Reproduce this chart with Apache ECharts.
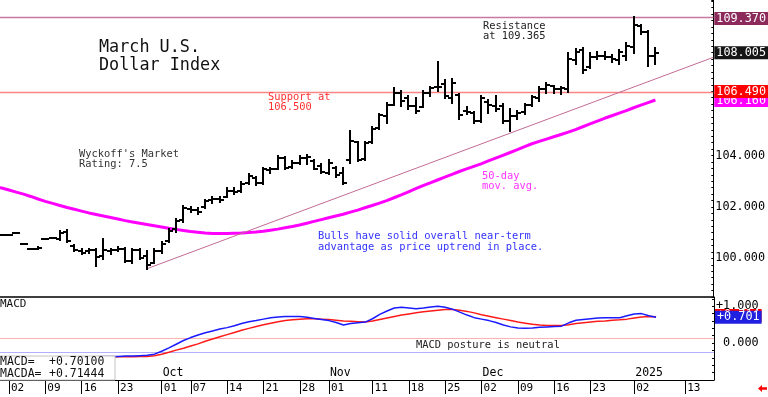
<!DOCTYPE html>
<html>
<head>
<meta charset="utf-8">
<title>March U.S. Dollar Index</title>
<script src="https://cdn.jsdelivr.net/npm/echarts@6.0.0/dist/echarts.min.js"></script>
<style>
  html, body { margin: 0; padding: 0; background: #fff; }
  #chart { width: 768px; height: 397px; }
</style>
</head>
<body>
<div id="chart"></div>
<script>
var FONT = 'DejaVu Sans Mono';

// trading days, Aug 29 2024 .. Jan 7 2025 (x value = index in this list)
var days = [
  'Aug 29', 'Aug 30', 'Sep 2', 'Sep 3', 'Sep 4', 'Sep 5', 'Sep 6', 'Sep 9', 'Sep 10', 'Sep 11', 'Sep 12', 'Sep 13',
  'Sep 16', 'Sep 17', 'Sep 18', 'Sep 19', 'Sep 20', 'Sep 23', 'Sep 24', 'Sep 25', 'Sep 26', 'Sep 27', 'Sep 30',
  'Oct 1', 'Oct 2', 'Oct 3', 'Oct 4', 'Oct 7', 'Oct 8', 'Oct 9', 'Oct 10', 'Oct 11', 'Oct 14', 'Oct 15', 'Oct 16',
  'Oct 17', 'Oct 18', 'Oct 21', 'Oct 22', 'Oct 23', 'Oct 24', 'Oct 25', 'Oct 28', 'Oct 29', 'Oct 30', 'Oct 31',
  'Nov 1', 'Nov 4', 'Nov 5', 'Nov 6', 'Nov 7', 'Nov 8', 'Nov 11', 'Nov 12', 'Nov 13', 'Nov 14', 'Nov 15',
  'Nov 18', 'Nov 19', 'Nov 20', 'Nov 21', 'Nov 22', 'Nov 25', 'Nov 26', 'Nov 27', 'Nov 28', 'Nov 29',
  'Dec 2', 'Dec 3', 'Dec 4', 'Dec 5', 'Dec 6', 'Dec 9', 'Dec 10', 'Dec 11', 'Dec 12', 'Dec 13',
  'Dec 16', 'Dec 17', 'Dec 18', 'Dec 19', 'Dec 20', 'Dec 23', 'Dec 24', 'Dec 26', 'Dec 27', 'Dec 30', 'Dec 31',
  'Jan 2', 'Jan 3', 'Jan 6', 'Jan 7'
];

var opens = [
  100.93, 100.93, 100.93, 101.00, 100.58, 100.38, 100.38, 100.77, 100.81, 100.77, 101.04, 100.50,
  100.30, 100.27, 100.34, 100.11, 100.30, 100.34, 100.38, 99.91, 100.34, 100.11, 99.84,
  100.30, 100.69, 101.16, 101.51, 101.94, 101.90, 102.01, 102.29, 102.33, 102.40, 102.64, 102.64,
  102.95, 103.14, 102.95, 103.42, 103.49, 103.92, 103.57, 103.73, 103.92, 103.77, 103.61,
  103.34, 103.53, 103.34, 103.81, 104.51, 103.88, 104.51, 105.09, 105.52, 105.98, 106.45,
  106.22, 105.91, 105.87, 106.45, 106.68, 106.80, 106.22, 106.37, 105.75, 105.67,
  105.36, 106.10, 105.91, 105.91, 105.36, 105.52, 105.71, 105.98, 106.22, 106.57,
  106.72, 106.57, 106.57, 107.70, 108.09, 107.43, 107.85, 107.89, 107.85, 107.70, 107.89,
  108.24, 109.02, 108.79, 107.89
];
var highs = [
  100.93, 100.93, 100.93, 101.00, 100.58, 100.38, 100.46, 100.77, 100.81, 101.08, 101.12, 100.54,
  100.38, 100.38, 100.38, 100.77, 100.38, 100.46, 100.42, 100.38, 100.38, 100.30, 100.38,
  100.65, 101.16, 101.55, 102.05, 102.01, 101.98, 102.29, 102.40, 102.40, 102.72, 102.72, 102.99,
  103.30, 103.18, 103.53, 103.53, 104.00, 103.96, 103.77, 104.00, 104.04, 103.81, 103.69,
  103.84, 103.57, 103.53, 104.97, 104.54, 104.54, 105.13, 105.63, 106.06, 106.61, 106.53,
  106.33, 106.22, 106.53, 106.68, 107.62, 106.92, 106.99, 106.41, 105.87, 105.71,
  106.30, 106.18, 106.33, 106.02, 105.83, 105.75, 106.02, 106.33, 106.65, 106.84,
  106.72, 106.68, 107.97, 108.16, 108.20, 107.97, 108.01, 108.01, 107.93, 108.12, 108.36,
  109.37, 109.06, 108.86, 108.20
];
var lows = [
  100.93, 100.93, 100.93, 101.00, 100.58, 100.38, 100.35, 100.77, 100.81, 100.73, 100.65, 100.30,
  100.19, 100.23, 99.72, 99.99, 100.19, 100.27, 99.88, 99.84, 99.99, 99.60, 99.84,
  100.23, 100.62, 101.04, 101.43, 101.82, 101.74, 101.98, 102.17, 102.21, 102.37, 102.52, 102.60,
  102.91, 102.87, 102.91, 103.34, 103.49, 103.46, 103.53, 103.69, 103.69, 103.46, 103.34,
  103.30, 103.18, 102.91, 103.73, 103.77, 103.84, 104.47, 105.05, 105.28, 105.95, 105.91,
  105.83, 105.67, 105.87, 106.30, 106.53, 106.22, 106.06, 105.44, 105.63, 105.28,
  105.32, 105.67, 105.75, 105.28, 104.97, 105.44, 105.63, 105.91, 106.14, 106.45,
  106.45, 106.41, 106.49, 107.58, 107.23, 107.39, 107.77, 107.74, 107.62, 107.58, 107.70,
  107.97, 108.71, 107.50, 107.58
];
var closes = [
  100.93, 100.93, 100.93, 101.00, 100.58, 100.38, 100.42, 100.77, 100.81, 101.00, 100.69, 100.34,
  100.23, 100.34, 100.07, 100.34, 100.34, 100.38, 99.91, 100.34, 100.03, 99.76, 100.30,
  100.58, 101.08, 101.47, 101.98, 101.90, 101.82, 102.25, 102.33, 102.29, 102.64, 102.60, 102.91,
  103.22, 102.95, 103.46, 103.46, 103.92, 103.53, 103.73, 103.92, 103.96, 103.49, 103.38,
  103.73, 103.26, 102.95, 104.58, 103.84, 104.47, 105.05, 105.56, 105.95, 106.45, 106.14,
  105.91, 105.75, 106.45, 106.61, 106.65, 106.33, 106.84, 105.56, 105.71, 105.36,
  106.22, 105.95, 105.83, 105.36, 105.52, 105.67, 105.95, 106.26, 106.57, 106.76,
  106.57, 106.61, 107.77, 108.01, 107.31, 107.85, 107.89, 107.85, 107.74, 108.01, 108.28,
  109.06, 108.79, 107.89, 108.005
];

var ma50 = [
  102.78, 102.74, 102.66, 102.58, 102.50, 102.41, 102.31, 102.22, 102.14, 102.06, 101.98, 101.91,
  101.84, 101.77, 101.71, 101.65, 101.59, 101.53, 101.47, 101.42, 101.37, 101.32, 101.27,
  101.22, 101.17, 101.13, 101.09, 101.05, 101.02, 100.99, 100.97, 100.97, 100.97, 100.98, 100.99,
  101.01, 101.03, 101.06, 101.10, 101.14, 101.19, 101.24, 101.30, 101.37, 101.44, 101.51,
  101.58, 101.65, 101.72, 101.80, 101.88, 101.97, 102.06, 102.15, 102.25, 102.36, 102.47,
  102.59, 102.71, 102.83, 102.94, 103.05, 103.16, 103.27, 103.38, 103.48, 103.58,
  103.68, 103.79, 103.90, 104.01, 104.12, 104.23, 104.35, 104.46, 104.55, 104.64,
  104.73, 104.82, 104.91, 105.01, 105.12, 105.23, 105.34, 105.45, 105.55, 105.65, 105.75,
  105.86, 105.96, 106.06, 106.16
];

var macd = [
  -0.42, -0.42, -0.42, -0.41, -0.41, -0.40, -0.40, -0.39, -0.38, -0.38, -0.38, -0.38,
  -0.37, -0.37, -0.37, -0.36, -0.36, -0.36, -0.35, -0.35, -0.34, -0.33, -0.30,
  -0.22, -0.13, -0.03, 0.07, 0.15, 0.22, 0.28, 0.33, 0.38, 0.42, 0.47, 0.53,
  0.58, 0.61, 0.65, 0.69, 0.71, 0.72, 0.72, 0.72, 0.70, 0.67, 0.64,
  0.61, 0.56, 0.49, 0.53, 0.55, 0.57, 0.66, 0.78, 0.87, 0.95, 0.97,
  0.95, 0.93, 0.95, 0.98, 1.00, 0.97, 0.92, 0.84, 0.76, 0.69,
  0.65, 0.61, 0.56, 0.49, 0.44, 0.41, 0.40, 0.41, 0.43, 0.44,
  0.45, 0.46, 0.55, 0.62, 0.64, 0.66, 0.68, 0.69, 0.69, 0.69, 0.74,
  0.79, 0.80, 0.74, 0.701
];
var macdSignal = [
  -0.43, -0.43, -0.43, -0.42, -0.42, -0.41, -0.41, -0.40, -0.40, -0.39, -0.39, -0.39,
  -0.38, -0.38, -0.38, -0.38, -0.38, -0.37, -0.37, -0.37, -0.36, -0.36, -0.34,
  -0.30, -0.25, -0.19, -0.14, -0.08, -0.02, 0.05, 0.11, 0.17, 0.23, 0.29, 0.35,
  0.40, 0.45, 0.50, 0.54, 0.58, 0.61, 0.63, 0.65, 0.66, 0.66, 0.65,
  0.64, 0.62, 0.60, 0.59, 0.58, 0.57, 0.60, 0.64, 0.68, 0.72, 0.76,
  0.79, 0.82, 0.85, 0.87, 0.89, 0.91, 0.91, 0.89, 0.86, 0.82,
  0.77, 0.73, 0.69, 0.65, 0.61, 0.57, 0.54, 0.51, 0.49, 0.48,
  0.48, 0.48, 0.50, 0.53, 0.55, 0.57, 0.59, 0.60, 0.62, 0.63, 0.65,
  0.68, 0.71, 0.72, 0.714
];

// bottom date ticks (positions in the day list; Jan 13 is past the data)
var tickPos = [2, 7, 12, 17, 23, 27, 32, 37, 42, 46, 52, 57, 62, 67, 72, 77, 82, 88, 95];
var tickText = ['02', '09', '16', '23', '01', '07', '14', '21', '28', '01', '11', '18', '25', '02', '09', '16', '23', '02', '13'];
var monthPos = [23, 46, 67, 88];
var monthText = ['Oct', 'Nov', 'Dec', '2025'];

var trendLine = [[21, 99.60], [98.97, 107.82]];
var resistance = 109.37;
var support = 106.49;
var lastClose = 108.005;
var lastMA = 106.16;
var lastMacd = 0.701;
var lastMacdA = 0.714;
var postureHigh = 0.15;
var postureLow = -0.25;

var xMin = 0.762, xMax = 98.97;

var bars = days.map(function (d, k) {
  return [k, opens[k], closes[k], lows[k], highs[k]];
});
function pairs(arr) {
  return arr.map(function (v, k) { return [k, v]; });
}

function renderBar(params, api) {
  var k = api.value(0);
  var o = api.coord([k, api.value(1)]);
  var c = api.coord([k, api.value(2)]);
  var lo = api.coord([k, api.value(3)]);
  var hi = api.coord([k, api.value(4)]);
  var x = Math.round(o[0]);
  var st = { stroke: '#000', lineWidth: 2 };
  return {
    type: 'group',
    children: [
      { type: 'line', shape: { x1: x, y1: Math.round(hi[1]) - 1, x2: x, y2: Math.round(lo[1]) + 1 }, style: st },
      { type: 'line', shape: { x1: x - 4, y1: Math.round(o[1]), x2: x, y2: Math.round(o[1]) }, style: st },
      { type: 'line', shape: { x1: x, y1: Math.round(c[1]), x2: x + 4, y2: Math.round(c[1]) }, style: st }
    ]
  };
}

// full-width horizontal line at each data value, colour picked by data index
function levelRenderer(colors, width) {
  return function (params, api) {
    var a = api.coord([xMin, api.value(0)]);
    var b = api.coord([xMax, api.value(0)]);
    var y = Math.round(a[1]) + 0.5;
    return {
      type: 'line',
      shape: { x1: a[0], y1: y, x2: b[0], y2: y },
      style: { stroke: colors[params.dataIndex], lineWidth: width }
    };
  };
}

var boxLabel = {
  show: true,
  position: 'end',
  distance: 1,
  color: '#fff',
  fontFamily: FONT,
  fontSize: 11.8,
  padding: [1, 2, 0, 2]
};
var noLine = { color: 'rgba(0,0,0,0)', width: 0 };

// value boxes on the right axis, drawn as markLine labels with invisible lines
function valueBoxes(list) {
  return {
    symbol: ['none', 'none'], silent: true, animation: false,
    label: boxLabel,
    data: list.map(function (b) {
      return { yAxis: b[0], lineStyle: noLine, label: { formatter: b[1], backgroundColor: b[2], offset: [0, b[3]] } };
    })
  };
}

function note(x, y, text, color, size, lh) {
  return {
    type: 'text',
    x: x,
    y: y,
    z: 50,
    style: {
      text: text,
      fill: color,
      fontFamily: FONT,
      fontSize: size,
      lineHeight: lh,
      verticalAlign: 'middle'
    }
  };
}

var chart = echarts.init(document.getElementById('chart'));
var option = {
  animation: false,
  backgroundColor: '#fff',
  grid: [
    { left: 0, top: 0, width: 714, height: 297 },
    { left: 0, top: 297, width: 714, height: 83 }
  ],
  xAxis: [
    {
      type: 'value', gridIndex: 0, min: xMin, max: xMax,
      axisLine: { show: true, onZero: false, lineStyle: { color: '#000', width: 1.5 } },
      axisTick: { show: false }, axisLabel: { show: false }, splitLine: { show: false }
    },
    {
      type: 'value', gridIndex: 1, min: xMin, max: xMax, position: 'bottom',
      axisLine: { show: true, onZero: false, lineStyle: { color: '#000', width: 1 } },
      axisTick: { show: true, customValues: tickPos, length: 14, lineStyle: { color: '#000' } },
      axisLabel: {
        show: true, customValues: tickPos, align: 'left', margin: 3, padding: [0, 0, 0, 2],
        color: '#000', fontFamily: FONT, fontSize: 11,
        formatter: function (v) { return tickText[tickPos.indexOf(v)] || ''; }
      },
      splitLine: { show: false }
    },
    {
      type: 'value', gridIndex: 1, min: xMin, max: xMax, position: 'bottom',
      axisLine: { show: false, onZero: false }, axisTick: { show: false },
      axisLabel: {
        show: true, inside: true, customValues: monthPos, align: 'left', margin: 1, padding: [0, 0, 0, 1],
        color: '#000', fontFamily: FONT, fontSize: 11.5,
        formatter: function (v) { return monthText[monthPos.indexOf(v)] || ''; }
      },
      splitLine: { show: false }
    }
  ],
  yAxis: [
    {
      type: 'value', gridIndex: 0, position: 'right', min: 98.5, max: 110.05, interval: 0.25,
      axisLine: { show: true, lineStyle: { color: '#000', width: 1 } },
      axisTick: { show: true, inside: true, length: 2, lineStyle: { color: '#000' } },
      axisLabel: {
        margin: 2, color: '#000', fontFamily: FONT, fontSize: 11.8,
        formatter: function (v) {
          return (Math.abs(v - 100) < 1e-6 || Math.abs(v - 102) < 1e-6 || Math.abs(v - 104) < 1e-6) ? v.toFixed(3) : '';
        }
      },
      splitLine: { show: false }
    },
    {
      type: 'value', gridIndex: 1, position: 'right', min: -1, max: 1.25, interval: 0.2,
      axisLine: { show: true, lineStyle: { color: '#000', width: 1 } },
      axisTick: { show: true, inside: true, length: 2, lineStyle: { color: '#000' } },
      axisLabel: {
        margin: 2, color: '#000', fontFamily: FONT, fontSize: 11.8,
        formatter: function (v) {
          if (Math.abs(v - 1) < 1e-6) return '+1.000';
          if (Math.abs(v) < 1e-6) return ' 0.000';
          return '';
        }
      },
      splitLine: { show: false }
    }
  ],
  series: [
    {
      name: '50-day',
      type: 'line',
      xAxisIndex: 0, yAxisIndex: 0,
      data: pairs(ma50),
      showSymbol: false,
      clip: false,
      z: 2,
      lineStyle: { color: '#ff00ff', width: 3 },
      markLine: valueBoxes([[lastMA, lastMA.toFixed(3), '#ff00ff', 0.5]])
    },
    {
      name: 'levels',
      type: 'custom',
      xAxisIndex: 0, yAxisIndex: 0,
      data: [[resistance], [support]],
      encode: { y: 0 },
      renderItem: levelRenderer(['#c47aa3', '#ff8585'], 1.4),
      z: 3,
      markLine: valueBoxes([
        [resistance, resistance.toFixed(3), '#8c2a5c', 1],
        [support, support.toFixed(3), '#ff0000', 0]
      ])
    },
    {
      name: 'trend',
      type: 'line',
      xAxisIndex: 0, yAxisIndex: 0,
      data: trendLine,
      showSymbol: false,
      clip: false,
      z: 3,
      lineStyle: { color: '#c26b95', width: 1 },
      markLine: valueBoxes([[lastClose, lastClose.toFixed(3), '#151515', 0]])
    },
    {
      name: 'March USDX',
      type: 'custom',
      xAxisIndex: 0, yAxisIndex: 0,
      data: bars,
      renderItem: renderBar,
      encode: { x: 0, y: [1, 2, 3, 4] },
      clip: true,
      z: 4
    },
    {
      name: 'posture',
      type: 'custom',
      xAxisIndex: 1, yAxisIndex: 1,
      data: [[postureHigh], [postureLow]],
      encode: { y: 0 },
      renderItem: levelRenderer(['#ffb0b0', '#b0b0ff'], 1),
      z: 1
    },
    {
      name: 'MACDA',
      type: 'line',
      xAxisIndex: 1, yAxisIndex: 1,
      data: pairs(macdSignal),
      showSymbol: false,
      clip: false,
      z: 2,
      lineStyle: { color: '#ff1a1a', width: 1.5 },
      markLine: valueBoxes([[lastMacdA, '+' + lastMacdA.toFixed(3), '#ff0000', -1.5]])
    },
    {
      name: 'MACD',
      type: 'line',
      xAxisIndex: 1, yAxisIndex: 1,
      data: pairs(macd),
      showSymbol: false,
      clip: false,
      z: 3,
      lineStyle: { color: '#1a1aff', width: 1.5 },
      markLine: valueBoxes([[lastMacd, '+' + lastMacd.toFixed(3), '#2020e0', 0]])
    }
  ],
  graphic: [
    note(99, 56.5, 'March U.S.\nDollar Index', '#111', 16.8, 18),
    note(268, 102.3, 'Support at\n106.500', '#ff3030', 10.4, 10),
    note(79, 159.5, "Wyckoff's Market\nRating: 7.5", '#333', 10.4, 10.5),
    note(483, 30.8, 'Resistance\nat 109.365', '#222', 10.4, 10),
    note(482, 180.8, '50-day\nmov. avg.', '#ff33ff', 10.4, 10),
    note(318, 242, 'Bulls have solid overall near-term\nadvantage as price uptrend in place.', '#3333ff', 10.4, 11),
    note(416, 345.3, 'MACD posture is neutral', '#222', 10.4, 10),
    note(0, 304.2, 'MACD', '#111', 11, 11),
    {
      type: 'rect', z: 60,
      shape: { x: -1, y: 356, width: 116, height: 24 },
      style: { fill: '#fff', stroke: '#c4c4c4', lineWidth: 1 }
    },
    {
      type: 'text', x: 0, y: 368, z: 61,
      style: { text: 'MACD=\nMACDA=', fill: '#111', fontFamily: FONT, fontSize: 11.5, lineHeight: 11.3, verticalAlign: 'middle' }
    },
    {
      type: 'text', x: 49, y: 368, z: 61,
      style: { text: '+0.70100\n+0.71444', fill: '#111', fontFamily: FONT, fontSize: 11.5, lineHeight: 11.3, verticalAlign: 'middle' }
    },
    {
      type: 'polygon', z: 61,
      shape: { points: [[758, 388.5], [762, 385], [762, 387.2], [767, 387.2], [767, 389.8], [762, 389.8], [762, 392]] },
      style: { fill: '#ff0000' }
    }
  ]
};
chart.setOption(option);
</script>
</body>
</html>
